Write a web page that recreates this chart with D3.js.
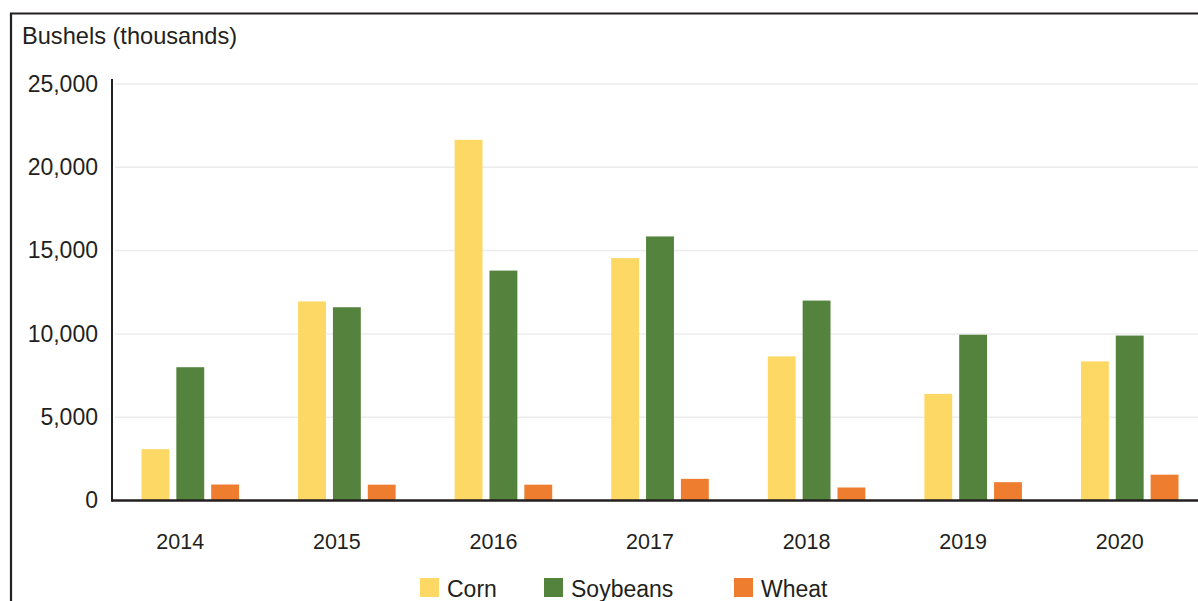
<!DOCTYPE html>
<html>
<head>
<meta charset="utf-8">
<script src="https://cdn.jsdelivr.net/npm/d3@7"></script>
<style>
  html, body { margin: 0; padding: 0; background: #fff; }
  svg { display: block; }
  text { font-family: "Liberation Sans", Arial, sans-serif; fill: #231f20; }
</style>
</head>
<body>
<svg id="chart" width="1198" height="601"></svg>
<script>
const years = ["2014", "2015", "2016", "2017", "2018", "2019", "2020"];
const series = ["Corn", "Soybeans", "Wheat"];
const corn = [3080, 11950, 21650, 14550, 8650, 6400, 8350];
const soybeans = [8000, 11600, 13800, 15850, 12000, 9950, 9900];
const wheat = [960, 950, 950, 1300, 780, 1100, 1550];
const yTicks = [0, 5000, 10000, 15000, 20000, 25000];
const colors = ["#fdd865", "#53833c", "#ef7d2f"];
const yLabel = "Bushels (thousands)";

const values = { Corn: corn, Soybeans: soybeans, Wheat: wheat };
const svg = d3.select("#chart");

// panel border (top and left)
svg.append("path")
  .attr("d", "M11,1000 V13.5 H1300")
  .attr("fill", "none").attr("stroke", "#231f20").attr("stroke-width", 2.2);

svg.append("text").attr("x", 22).attr("y", 44)
  .style("font-size", "23.6px").text(yLabel);

const left = 112, right = 1208, y0 = 500.5, yTop = 84;
const x0 = d3.scaleBand().domain(years).range([left, right]);
const x1 = d3.scaleBand().domain(series)
  .range([29.5, x0.bandwidth() - 29.5]).paddingInner(0.2);
const y = d3.scaleLinear().domain([0, 25000]).range([y0, yTop]);

// gridlines
svg.append("g").selectAll("line").data(yTicks.filter(d => d > 0)).join("line")
  .attr("x1", left + 3).attr("x2", 1198)
  .attr("y1", d => y(d)).attr("y2", d => y(d))
  .attr("stroke", "#ececec").attr("stroke-width", 1.5);

// y axis labels
const yAxis = d3.axisLeft(y).tickValues(yTicks).tickFormat(d3.format(",")).tickSize(0).tickPadding(14);
const gy = svg.append("g").attr("transform", `translate(${left},0)`).call(yAxis);
gy.select(".domain").remove();
gy.selectAll("text").style("font-size", "23px").attr("fill", "#231f20")
  .style("font-family", '"Liberation Sans", Arial, sans-serif');

// bars
const groups = svg.append("g").selectAll("g").data(years).join("g")
  .attr("transform", d => `translate(${x0(d)},0)`);
groups.selectAll("rect")
  .data((yr, i) => series.map((s, j) => ({ s, j, v: values[s][i] })))
  .join("rect")
  .attr("x", d => x1(d.s))
  .attr("width", x1.bandwidth())
  .attr("y", d => y(d.v))
  .attr("height", d => y0 - y(d.v))
  .attr("fill", d => colors[d.j]);

// x axis labels
const xAxis = d3.axisBottom(x0).tickSize(0).tickPadding(0);
const gx = svg.append("g").attr("transform", `translate(-10,${y0})`).call(xAxis);
gx.select(".domain").remove();
gx.selectAll("text").style("font-size", "21.5px").attr("fill", "#231f20")
  .attr("dy", 0).attr("y", 48)
  .style("font-family", '"Liberation Sans", Arial, sans-serif');

// axis lines
svg.append("line").attr("x1", left).attr("x2", 1198).attr("y1", y0).attr("y2", y0)
  .attr("stroke", "#231f20").attr("stroke-width", 2.5);
svg.append("line").attr("x1", left).attr("x2", left).attr("y1", 79).attr("y2", y0 + 1.2)
  .attr("stroke", "#231f20").attr("stroke-width", 2);

// legend
const legendX = [420, 544, 734];
const lg = svg.append("g").selectAll("g").data(series).join("g")
  .attr("transform", (d, i) => `translate(${legendX[i]},578)`);
lg.append("rect").attr("width", 19).attr("height", 19).attr("fill", (d, i) => colors[i]);
lg.append("text").attr("x", 27).attr("y", 18.5).style("font-size", "23px").text(d => d);
</script>
</body>
</html>
